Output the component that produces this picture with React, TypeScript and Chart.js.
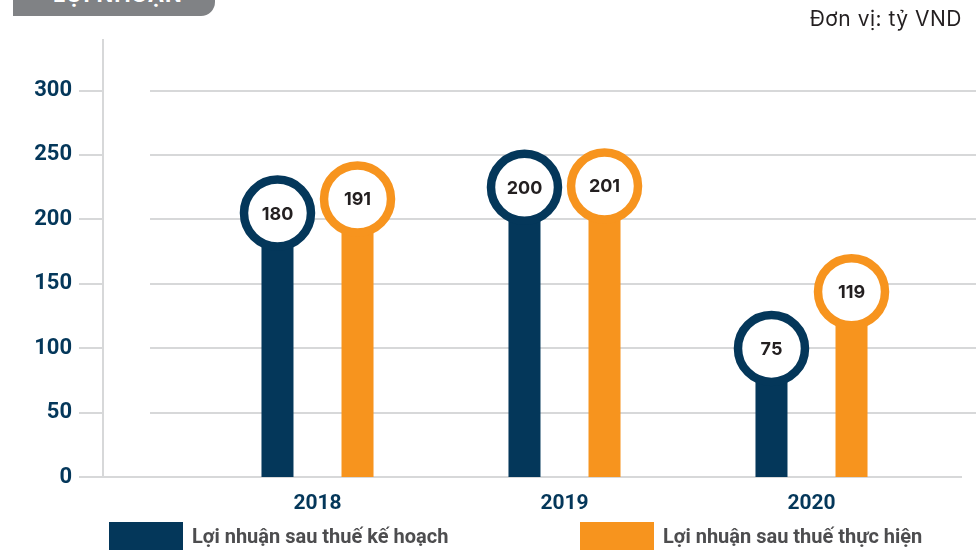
import React, { useEffect, useRef } from "react";
import { Chart, registerables } from "chart.js";

Chart.register(...registerables);

const categories = ["2018", "2019", "2020"];
const planValues = [180, 200, 75];
const actualValues = [191, 201, 119];
const yTickValues = [0, 50, 100, 150, 200, 250, 300];
const seriesNames = ["Lợi nhuận sau thuế kế hoạch", "Lợi nhuận sau thuế thực hiện"];
const titleText = "LỢI NHUẬN";
const unitText = "Đơn vị: tỷ VND";

const NAVY = "#04375a";
const ORANGE = "#f7941e";
const GRID = "#d7d8d9";

const gridPlugin = {
  id: "customGrid",
  beforeDatasetsDraw(chart: any) {
    const { ctx, chartArea } = chart;
    const y = chart.scales.y;
    ctx.save();
    ctx.strokeStyle = GRID;
    ctx.lineWidth = 2;
    ctx.beginPath();
    ctx.moveTo(103, chartArea.top);
    ctx.lineTo(103, y.getPixelForValue(0));
    ctx.stroke();
    yTickValues.forEach((v) => {
      const py = Math.round(y.getPixelForValue(v));
      ctx.beginPath();
      if (v === 0) {
        ctx.moveTo(79, py);
        ctx.lineTo(962, py);
      } else {
        ctx.moveTo(79, py);
        ctx.lineTo(103, py);
        ctx.moveTo(150, py);
        ctx.lineTo(976, py);
      }
      ctx.stroke();
    });
    ctx.restore();
  },
};

const bubblePlugin = {
  id: "bubbles",
  afterDatasetsDraw(chart: any) {
    const { ctx } = chart;
    chart.data.datasets.forEach((ds: any, di: number) => {
      const meta = chart.getDatasetMeta(di);
      meta.data.forEach((el: any, i: number) => {
        const cx = el.x;
        const cy = el.y - 32;
        ctx.save();
        ctx.beginPath();
        ctx.arc(cx, cy, 33.5, 0, Math.PI * 2);
        ctx.fillStyle = "#ffffff";
        ctx.fill();
        ctx.lineWidth = 8.5;
        ctx.strokeStyle = ds.backgroundColor;
        ctx.stroke();
        ctx.fillStyle = "#231f20";
        ctx.font = "bold 18px Inter, 'Open Sans', sans-serif";
        ctx.textAlign = "center";
        ctx.textBaseline = "middle";
        ctx.fillText(String(ds.data[i]), cx, cy + 1);
        ctx.restore();
      });
    });
  },
};

export default function App() {
  const canvasRef = useRef<HTMLCanvasElement>(null);

  useEffect(() => {
    if (!canvasRef.current) return;
    const chart = new Chart(canvasRef.current, {
      type: "bar",
      data: {
        labels: categories,
        datasets: [
          { label: seriesNames[0], data: planValues, backgroundColor: NAVY },
          { label: seriesNames[1], data: actualValues, backgroundColor: ORANGE },
        ],
      },
      options: {
        animation: false,
        responsive: false,
        maintainAspectRatio: false,
        layout: { padding: { top: 39, right: 45, bottom: 0, left: 0 } },
        datasets: {
          bar: { categoryPercentage: 0.648, barPercentage: 0.4 },
        } as any,
        plugins: {
          legend: { display: false },
          tooltip: { enabled: false },
        },
        scales: {
          x: {
            grid: { display: false, drawTicks: false },
            border: { display: false },
            ticks: {
              color: NAVY,
              font: { family: "Roboto, 'DejaVu Sans', sans-serif", weight: "bold", size: 21 },
              padding: 14,
            },
            afterFit(s: any) {
              s.height = 77;
            },
          },
          y: {
            position: "left",
            weight: 2,
            min: 0,
            max: 340,
            grid: { display: false, drawTicks: false },
            border: { display: false },
            ticks: {
              color: NAVY,
              font: { family: "Roboto, 'DejaVu Sans', sans-serif", weight: "bold", size: 22 },
              padding: 8,
            },
            afterBuildTicks(s: any) {
              s.ticks = yTickValues.map((v) => ({ value: v }));
            },
            afterFit(s: any) {
              s.width = 80;
            },
          },
          ySpacer: {
            type: "linear",
            position: "left",
            weight: 1,
            min: 0,
            max: 340,
            grid: { display: false, drawTicks: false },
            border: { display: false },
            ticks: { display: false },
            afterFit(s: any) {
              s.width = 114;
            },
          },
        },
      } as any,
      plugins: [gridPlugin, bubblePlugin],
    });
    return () => chart.destroy();
  }, []);

  const legendText: React.CSSProperties = {
    position: "absolute",
    top: 522,
    height: 28,
    lineHeight: "28px",
    fontFamily: "'Liberation Sans Narrow', Roboto, sans-serif",
    fontWeight: "bold",
    fontSize: 20,
    color: "#4d4d4f",
    whiteSpace: "nowrap",
  };

  return (
    <div
      style={{
        position: "fixed",
        left: 0,
        top: 0,
        width: 980,
        height: 554,
        background: "#ffffff",
        overflow: "hidden",
      }}
    >
      <canvas ref={canvasRef} width={980} height={554} style={{ position: "absolute", left: 0, top: 0 }} />
      <div
        style={{
          position: "absolute",
          left: 13,
          top: -30,
          width: 202,
          height: 46,
          background: "#808285",
          borderBottomRightRadius: 14,
          overflow: "hidden",
        }}
      >
        <span
          style={{
            position: "absolute",
            left: 40,
            top: 13,
            fontFamily: "Inter, 'Open Sans', sans-serif",
            fontWeight: "bold",
            fontSize: 22,
            lineHeight: "22px",
            color: "#ffffff",
            whiteSpace: "nowrap",
            letterSpacing: 0.8,
          }}
        >
          {titleText}
        </span>
      </div>
      <div
        style={{
          position: "absolute",
          right: 18,
          top: 7,
          fontFamily: "Inter, 'Open Sans', sans-serif",
          fontSize: 21,
          lineHeight: "24px",
          letterSpacing: 0.5,
          color: "#231f20",
          whiteSpace: "nowrap",
        }}
      >
        {unitText}
      </div>
      <div style={{ position: "absolute", left: 109, top: 522, width: 74, height: 28, background: NAVY }} />
      <div style={{ ...legendText, left: 192 }}>{seriesNames[0]}</div>
      <div style={{ position: "absolute", left: 580, top: 522, width: 74, height: 28, background: ORANGE }} />
      <div style={{ ...legendText, left: 663 }}>{seriesNames[1]}</div>
    </div>
  );
}
